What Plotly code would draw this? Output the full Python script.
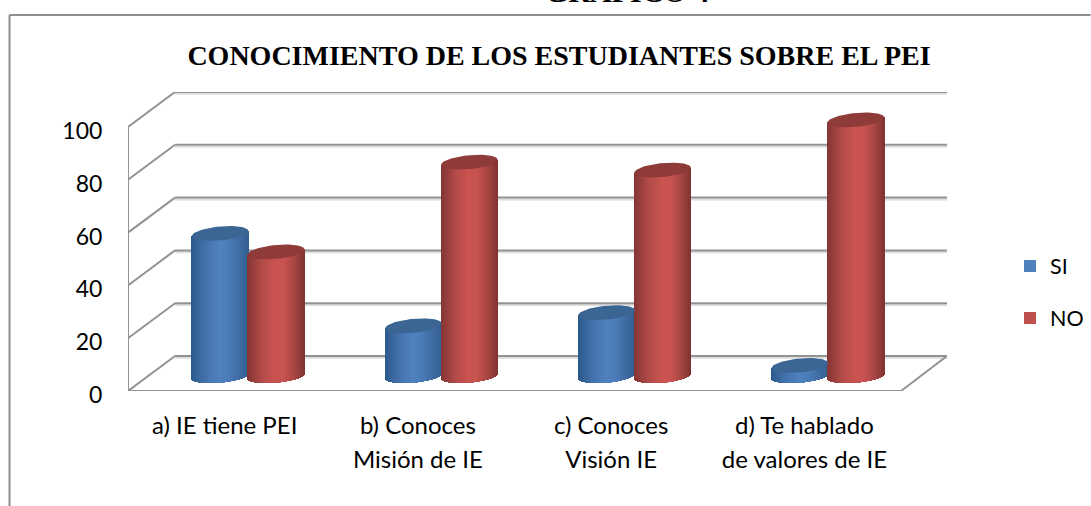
import numpy as np
import plotly.graph_objects as go

CATEGORIES = ["a) IE tiene PEI", "b) Conoces<br>Misión de IE", "c) Conoces<br>Visión IE", "d) Te hablado<br>de valores de IE"]
SI_VALUES = [54, 19, 24, 4]
NO_VALUES = [47, 81, 78, 97]
Y_TICKS = [0, 20, 40, 60, 80, 100]
TITLE = "CONOCIMIENTO DE LOS ESTUDIANTES SOBRE EL PEI"
CLIPPED_HEADING = "GRÁFICO 4"

W, H = 1091, 506
L, R, T, B = 128, 947, 92, 391
PX_X = 193.25
PX_Y = 2.64
X0 = -0.5
XFRONT = 3.5
XMAX = X0 + (R - L) / PX_X
YMAX = (B - T) / PX_Y
DX = 47 / PX_X
DY = 35 / PX_Y
BAR_DX = 23.5 / PX_X
BAR_BASE = 15 / PX_Y
BAR_W = 56.5 / PX_X
HALF_GAP = 28 / PX_X
MINOR = 7 / PX_Y
TILT = 2.5 / PX_Y
N = 57

GRID = "#939393"
LIGHT = "#dcdcdc"
SHADE_U = [-1, -0.8, -0.45, 0, 0.3, 0.7, 1]
BLUE = dict(stops=[(44, 88, 138), (55, 100, 152), (69, 115, 175), (80, 130, 192), (76, 125, 186), (63, 108, 162), (52, 96, 146)],
            cap="#3b6694", key="#4f81bd")
RED = dict(stops=[(132, 54, 52), (150, 62, 60), (180, 76, 73), (203, 84, 81), (200, 83, 80), (165, 69, 66), (128, 53, 51)],
           cap="#8e3b39", key="#c0504d")


def hexes(us, stops):
    arr = np.array(stops, dtype=float)
    chans = [np.interp(us, SHADE_U, arr[:, i]) for i in range(3)]
    return ["rgb(%d,%d,%d)" % (r, g, b) for r, g, b in zip(*chans)]


def series(values, side, style, name):
    us = (np.arange(N) + 0.5) / N * 2 - 1
    colors = hexes(us, style["stops"])
    xs, bases, heights, cols = [], [], [], []
    caps = []
    for i, v in enumerate(values):
        cx = i + BAR_DX + side * HALF_GAP
        xs += list(cx + us * BAR_W / 2)
        low = BAR_BASE - MINOR * np.sqrt(1 - us ** 2) + TILT * us
        high = BAR_BASE + v + TILT * us
        bases += list(low)
        heights += list(high - low)
        cols += colors
        t = np.linspace(0, 2 * np.pi, 80)
        caps.append(go.Scatter(
            x=cx + BAR_W / 2 * np.cos(t),
            y=BAR_BASE + v + MINOR * np.sin(t) + TILT * np.cos(t),
            mode="lines", line=dict(width=0, color=style["cap"]), fill="toself",
            fillcolor=style["cap"], hoverinfo="skip", showlegend=False))
    bar = go.Bar(x=xs, y=heights, base=bases, width=BAR_W / N * 1.0,
                 marker=dict(color=cols, line=dict(width=0)), showlegend=False, name=name, hoverinfo="skip")
    key = go.Scatter(x=[None], y=[None], mode="markers", name=name, legendgroup=name,
                     marker=dict(symbol="square", size=17, color=style["key"]))
    return [bar] + caps + [key]


fig = go.Figure()
for t in series(SI_VALUES, -1, BLUE, "SI") + series(NO_VALUES, 1, RED, "NO"):
    fig.add_trace(t)

shapes = []


def seg(x0, y0, x1, y1, color=GRID, width=2):
    shapes.append(dict(type="line", xref="x", yref="y", x0=x0, y0=y0, x1=x1, y1=y1,
                       line=dict(color=color, width=width), layer="below"))


for v in Y_TICKS:
    seg(X0 + DX, v + DY - 0.7, XMAX, v + DY - 0.7, LIGHT, 2)
    seg(X0, v, X0 + DX, v + DY)
    seg(X0 + DX, v + DY, XMAX, v + DY)
seg(X0, 0, X0, 100)
seg(X0, 0, XFRONT, 0)
seg(XFRONT, 0, XMAX, DY)


def px(xp):
    return (xp - L) / (R - L)


def py(yp):
    return (B - yp) / (B - T)


for a, b, c, d in [(9.5, 506, 9.5, 15), (9.5, 15, 1090.5, 15)]:
    shapes.append(dict(type="line", xref="paper", yref="paper", x0=px(a), y0=py(b), x1=px(c), y1=py(d),
                       line=dict(color="#8e8e8e", width=2)))

CAT_SPAN = '<span style="font-size:24px">%s</span>'

fig.update_layout(
    width=W, height=H, template="none", autosize=False,
    margin=dict(l=L, r=W - R, t=T, b=H - B, pad=0),
    paper_bgcolor="white", plot_bgcolor="white",
    barmode="overlay", bargap=0,
    shapes=shapes,
    title=dict(text="<b>%s</b>" % TITLE, x=559 / W, xanchor="center", y=1 - 55 / H, yanchor="middle",
               font=dict(family="Liberation Serif", size=28, color="black")),
    annotations=[dict(text="<b>%s</b>" % CLIPPED_HEADING, xref="paper", yref="paper", x=px(627), y=py(9.5),
                      xanchor="center", yanchor="bottom", showarrow=False,
                      font=dict(family="Liberation Serif", size=30, color="black"))],
    legend=dict(xref="container", yref="container", x=1010 / W, y=1 - 292 / H, xanchor="left", yanchor="middle",
                tracegroupgap=21, font=dict(family="Lato", size=21.5, color="black"), itemsizing="constant",
                bgcolor="rgba(0,0,0,0)", traceorder="grouped", itemwidth=30),
    xaxis=dict(range=[X0, XMAX], tickmode="array", tickvals=list(range(4)),
               ticktext=["<br>".join(CAT_SPAN % p for p in c.split("<br>")) for c in CATEGORIES],
               showgrid=False, zeroline=False, showline=False, ticks="outside", ticklen=12,
               tickcolor="rgba(0,0,0,0)", tickangle=0,
               tickfont=dict(family="Lato", size=25.4, color="black")),
    yaxis=dict(range=[0, YMAX], tickmode="array", tickvals=Y_TICKS, ticktext=[str(v) for v in Y_TICKS],
               showgrid=False, zeroline=False, showline=False, ticks="outside", ticklen=20,
               tickcolor="rgba(0,0,0,0)", ticklabelshift=4,
               tickfont=dict(family="Lato", size=23, color="black")),
)

fig.write_html("out.html", post_script="document.body.style.margin='0';", config={"displayModeBar": False})
